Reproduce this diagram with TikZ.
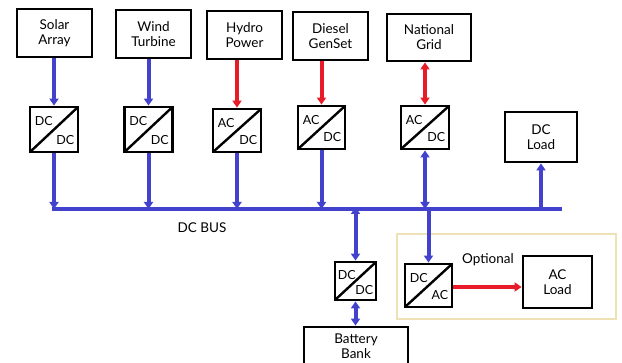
\documentclass[tikz,border=0pt]{standalone}
\usepackage{fontspec}
\setmainfont{Lato}
\usetikzlibrary{arrows.meta}
\definecolor{busblue}{RGB}{66,66,204}
\definecolor{acred}{RGB}{232,28,40}
\definecolor{tan}{RGB}{238,226,180}
\tikzset{
  box/.style={draw=black, line width=2.8pt, fill=white, align=center, inner sep=0pt, font=\fontsize{13.5}{15}\selectfont},
  conv/.style={draw=black, line width=2.8pt, fill=white, inner sep=0pt,
    path picture={\draw[line width=2.4pt] (path picture bounding box.south west) -- (path picture bounding box.north east);}},
  clab/.style={font=\fontsize{12.5}{13}\selectfont, inner sep=0pt},
  bline/.style={draw=busblue, line width=4pt},
  rline/.style={draw=acred, line width=4pt},
  tip/.tip={Triangle[length=7pt,width=9pt]},
  blab/.style={font=\fontsize{13.5}{15}\selectfont},
}
\begin{document}
\begin{tikzpicture}[x=1pt,y=-1pt]
\useasboundingbox (0,0) rectangle (622,363);
% sources
\node[box, minimum width=75pt, minimum height=48pt] (solar) at (54.5,33) {Solar\\Array};
\node[box, minimum width=75pt, minimum height=48pt] (wind) at (153.5,34) {Wind\\Turbine};
\node[box, minimum width=75pt, minimum height=48pt] (hydro) at (244.5,35) {Hydro\\Power};
\node[box, minimum width=75pt, minimum height=48pt] (diesel) at (330.5,36) {Diesel\\GenSet};
\node[box, minimum width=84pt, minimum height=47pt] (grid) at (429,37.5) {National\\Grid};
% converters
\node[conv, minimum width=48pt, minimum height=45pt] (c1) at (54,129.5) {};
\node[conv, minimum width=48pt, minimum height=45pt] (c2) at (148.5,129.5) {};
\node[conv, minimum width=48pt, minimum height=43pt] (c3) at (237,130.5) {};
\node[conv, minimum width=47pt, minimum height=43pt] (c4) at (321.5,127.5) {};
\node[conv, minimum width=48pt, minimum height=43pt] (c5) at (425,127.5) {};
\node[conv, minimum width=41pt, minimum height=38pt] (cb) at (355.5,281) {};
\node[conv, minimum width=47pt, minimum height=43pt] (ca) at (428.5,285.5) {};
\foreach \n/\a/\b in {c1/DC/DC, c2/DC/DC, c3/AC/DC, c4/AC/DC, c5/AC/DC, ca/DC/AC} {
  \node[clab, anchor=north west] at ([xshift=6pt,yshift=-11pt]\n.north west) {\a};
  \node[clab, anchor=base east] at ([xshift=-5pt,yshift=9pt]\n.south east) {\b};
}
\node[clab, anchor=north west] (cbt) at ([xshift=4pt,yshift=-10pt]cb.north west) {DC};
\node[clab, anchor=base east] (cbb) at ([xshift=-4pt,yshift=7pt]cb.south east) {DC};
% loads
\node[box, minimum width=72pt, minimum height=50pt] (dcload) at (541,137) {DC\\Load};
\node[box, minimum width=69pt, minimum height=52pt] (acload) at (557.5,282) {AC\\Load};
\node[box, minimum width=104pt, minimum height=50pt, text depth=12pt] (batt) at (356,352) {Battery\\Bank};
% optional frame
\draw[draw=tan, line width=2.2pt] (397,234) rectangle (616,319);
\node[blab] (opt) at (488,260) {Optional};
% bus
\coordinate (busL) at (52,209);
\coordinate (busR) at (562,209);
\draw[bline, line width=4.5pt] (busL) -- (busR);
\node[blab] (buslabel) at (202,228) {DC BUS};
% source to converter
\draw[bline, -tip] (c1.north |- solar.south) -- (c1.north);
\draw[bline, -tip] (c2.north |- wind.south) -- (c2.north);
\draw[rline, -tip] (c3.north |- hydro.south) -- (c3.north);
\draw[rline, -tip] (c4.north |- diesel.south) -- (c4.north);
\draw[rline, tip-tip] (c5.north |- grid.south) -- (c5.north);
% converter to bus
\draw[bline, -tip] (c1.south) -- (c1.south |- busL);
\draw[bline, -tip] (c2.south) -- (c2.south |- busL);
\draw[bline, -tip] (c3.south) -- (c3.south |- busL);
\draw[bline, -tip] (c4.south) -- (c4.south |- busL);
\draw[bline, tip-tip] (c5.south) -- (c5.south |- busL);
\draw[bline, -tip] (dcload.south |- busL) -- (dcload.south);
% battery
\draw[bline, tip-tip] ([yshift=2pt]cb.north |- busL) -- (cb.north);
\draw[bline, tip-tip] (cb.south) -- (cb.south |- batt.north);
% AC branch
\draw[bline, -tip] ([yshift=2pt]ca.north |- busL) -- (ca.north);
\draw[rline, -tip] ([yshift=-1.5pt]ca.east) -- ([yshift=-1.5pt]ca.east -| acload.west);
\end{tikzpicture}
\end{document}
